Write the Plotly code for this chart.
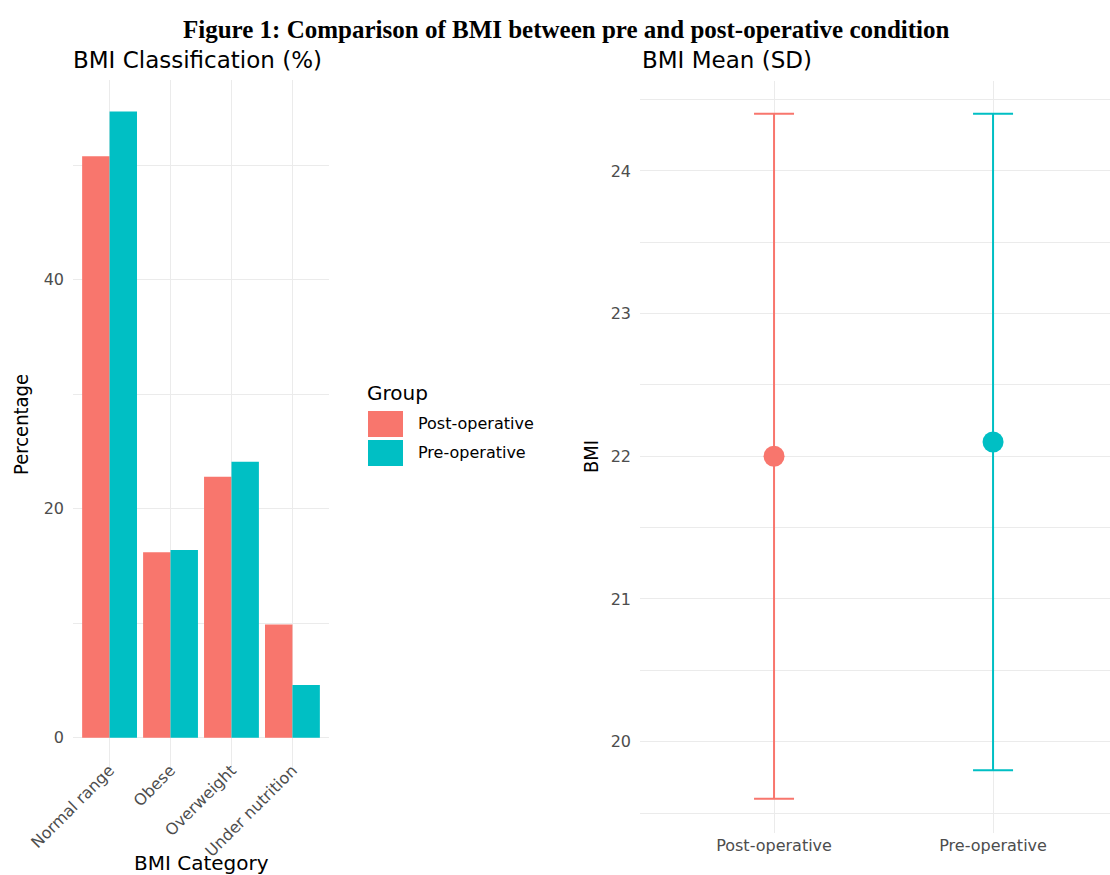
import plotly.graph_objects as go

# BMI classification shares (%) by group
categories = ["Normal range", "Obese", "Overweight", "Under nutrition"]
post_pct = [50.8, 16.2, 22.8, 9.9]
pre_pct = [54.7, 16.4, 24.1, 4.6]

# BMI mean and SD by group
groups = ["Post-operative", "Pre-operative"]
bmi_mean = [22.0, 22.1]
bmi_sd = [2.4, 2.3]

colors = ["#F8766D", "#00BFC4"]

W, H = 1110, 875
px = lambda x: x / W
py = lambda y: 1 - y / H

SANS = "DejaVu Sans, Verdana, sans-serif"
NARROW = "DejaVu Sans Condensed, Liberation Sans, sans-serif"
GRID = "#EBEBEB"
TICK = "#4D4D4D"

fig = go.Figure()

# Left panel: grouped bars
for name, vals, col in zip(groups, [post_pct, pre_pct], colors):
    fig.add_trace(go.Bar(x=categories, y=vals, name=name, marker_color=col,
                         marker_line_width=0, xaxis="x", yaxis="y",
                         showlegend=False))

# Right panel: mean points with SD error bars
for g, m, s, col in zip(groups, bmi_mean, bmi_sd, colors):
    fig.add_trace(go.Scatter(x=[g], y=[m], mode="markers",
                             marker=dict(color=col, size=21),
                             error_y=dict(type="data", array=[s], color=col,
                                          thickness=2, width=20),
                             xaxis="x2", yaxis="y2", showlegend=False))

tickfont = dict(family=SANS, size=16, color=TICK)

fig.update_layout(
    width=W, height=H,
    margin=dict(l=0, r=0, t=0, b=0, autoexpand=False),
    paper_bgcolor="white", plot_bgcolor="white",
    barmode="group", bargap=0.1, bargroupgap=0,
    xaxis=dict(domain=[px(73), px(329)], range=[-0.6, 3.6], type="category",
               showgrid=True, gridcolor=GRID, gridwidth=1.2, tickangle=-45,
               tickfont=tickfont, ticks="", showline=False, zeroline=False,
               anchor="y", automargin=False, ticklabelstandoff=-12),
    yaxis=dict(domain=[py(769), py(80)], range=[-2.73, 57.45],
               tickvals=[0, 20, 40], showgrid=True, gridcolor=GRID, gridwidth=1.2,
               minor=dict(dtick=10, tick0=0, showgrid=True, gridcolor=GRID, gridwidth=0.7),
               zeroline=False, tickfont=tickfont, ticks="", anchor="x",
               ticklabelstandoff=8, automargin=False),
    xaxis2=dict(domain=[px(640), 1.0], range=[-0.612, 1.534], type="category",
                showgrid=True, gridcolor=GRID, gridwidth=1.2, tickfont=tickfont,
                ticks="", zeroline=False, anchor="y2", automargin=False,
                ticklabelstandoff=1),
    yaxis2=dict(domain=[py(833), py(81)], range=[19.36, 24.63],
                tickvals=[20, 21, 22, 23, 24], showgrid=True, gridcolor=GRID, gridwidth=1.2,
                minor=dict(dtick=0.5, tick0=19.5, showgrid=True, gridcolor=GRID, gridwidth=0.7),
                zeroline=False, tickfont=tickfont, ticks="", anchor="x2",
                ticklabelstandoff=8, automargin=False),
)

ann = []
ann.append(dict(text="<b>Figure 1: Comparison of BMI between pre and post-operative condition</b>",
                x=px(566), y=py(30), xref="paper", yref="paper", showarrow=False,
                xanchor="center", yanchor="middle",
                font=dict(family="Liberation Serif, Times New Roman, serif", size=25, color="black")))
ann.append(dict(text="BMI Classification (%)", x=px(71), y=py(60), xref="paper", yref="paper",
                showarrow=False, xanchor="left", yanchor="middle",
                font=dict(family=SANS, size=23, color="black")))
ann.append(dict(text="BMI Mean (SD)", x=px(640), y=py(60), xref="paper", yref="paper",
                showarrow=False, xanchor="left", yanchor="middle",
                font=dict(family=SANS, size=23, color="black")))
ann.append(dict(text="Percentage", x=px(21), y=py(425), xref="paper", yref="paper",
                showarrow=False, textangle=-90, xanchor="center", yanchor="middle",
                font=dict(family=NARROW, size=20, color="black")))
ann.append(dict(text="BMI", x=px(591), y=py(457), xref="paper", yref="paper",
                showarrow=False, textangle=-90, xanchor="center", yanchor="middle",
                font=dict(family=NARROW, size=20, color="black")))
ann.append(dict(text="BMI Category", x=px(201), y=py(863), xref="paper", yref="paper",
                showarrow=False, xanchor="center", yanchor="middle",
                font=dict(family=SANS, size=20, color="black")))

# Legend for the group fill colours
ann.append(dict(text="Group", x=px(365), y=py(393), xref="paper", yref="paper",
                showarrow=False, xanchor="left", yanchor="middle",
                font=dict(family=SANS, size=20, color="black")))
shapes = []
for i, (g, col) in enumerate(zip(groups, colors)):
    top = 411 + i * 29
    shapes.append(dict(type="rect", xref="paper", yref="paper",
                       x0=px(368), x1=px(403), y0=py(top + 26), y1=py(top),
                       fillcolor=col, line=dict(width=0)))
    ann.append(dict(text=g, x=px(416), y=py(top + 12), xref="paper", yref="paper",
                    showarrow=False, xanchor="left", yanchor="middle",
                    font=dict(family=SANS, size=16, color="black")))

fig.update_layout(annotations=ann, shapes=shapes)

fig.write_html("out.html")
